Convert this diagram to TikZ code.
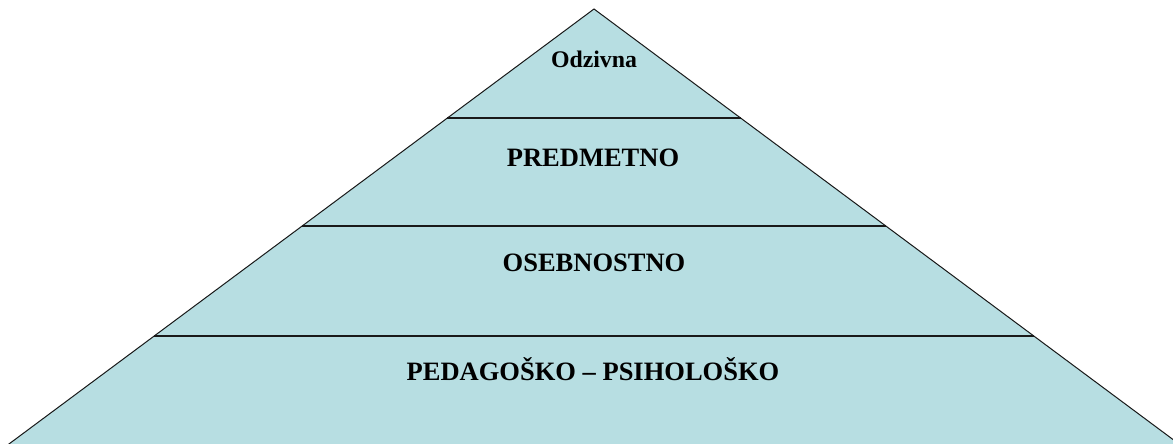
\documentclass[tikz,border=0pt]{standalone}
\usepackage{fontspec}
\setmainfont{Liberation Serif}
\usetikzlibrary{calc}
\definecolor{pyrfill}{RGB}{183,222,226}
\definecolor{pyrline}{RGB}{25,25,25}
\tikzset{
  outline/.style={draw=pyrline, line width=1pt, fill=pyrfill},
  divider/.style={draw=pyrline, line width=2pt},
  lbl/.style={anchor=base, inner sep=0pt, font=\bfseries\fontsize{26.5}{30}\selectfont},
  toplbl/.style={lbl, font=\bfseries\fontsize{23.8}{28}\selectfont}
}
\begin{document}
\begin{tikzpicture}[x=1pt, y=-1pt]
\useasboundingbox (0,0) rectangle (1173,444);
\clip (0,0) rectangle (1173,444);
\coordinate (A) at (594,9);
\coordinate (BL) at (-4.5,454);
\coordinate (BR) at (1192.5,454);
\fill[pyrfill] (A) -- (BL) -- (BR) -- cycle;
\draw[outline] (A) -- (BL) -- (BR) -- cycle;
\coordinate (L1) at ($(A)!0.2449!(BL)$);
\coordinate (R1) at ($(A)!0.2449!(BR)$);
\coordinate (L2) at ($(A)!0.4876!(BL)$);
\coordinate (R2) at ($(A)!0.4876!(BR)$);
\coordinate (L3) at ($(A)!0.7348!(BL)$);
\coordinate (R3) at ($(A)!0.7348!(BR)$);
\draw[divider] (L1) -- (R1);
\draw[divider] (L2) -- (R2);
\draw[divider] (L3) -- (R3);
\node[toplbl] (t1) at (594,68) {Odzivna};
\node[lbl] (t2) at (593,166) {PREDMETNO};
\node[lbl] (t3) at (594,271) {OSEBNOSTNO};
\node[lbl] (t4) at (593,380) {PEDAGOŠKO – PSIHOLOŠKO};
\end{tikzpicture}
\end{document}
